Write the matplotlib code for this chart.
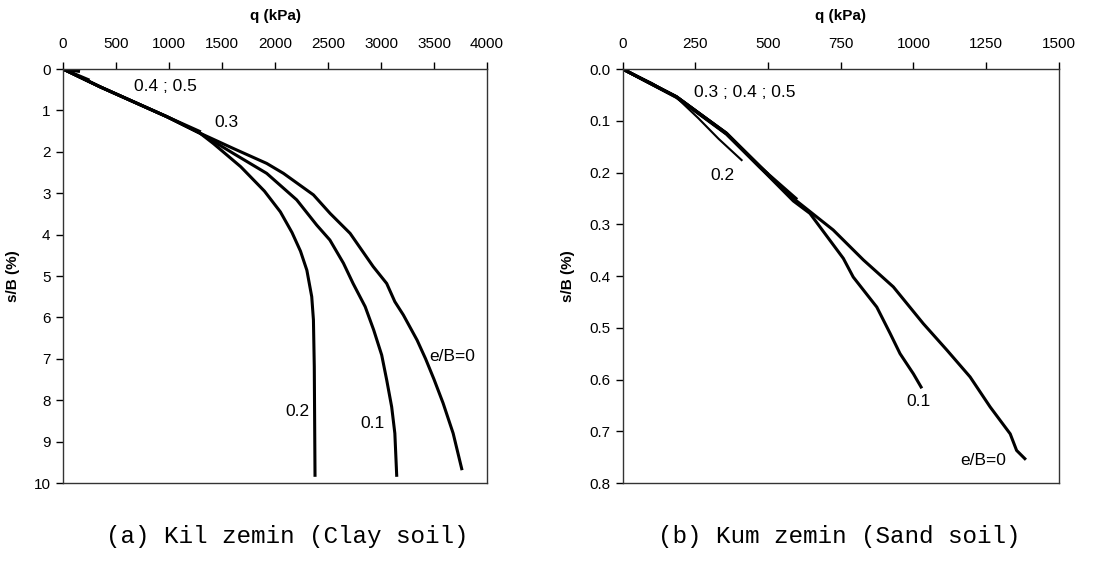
import numpy as np
import matplotlib
matplotlib.use("Agg")
import matplotlib.pyplot as plt
from matplotlib.ticker import FormatStrFormatter

plt.rcParams['font.family'] = ['Liberation Sans', 'DejaVu Sans']

# (a) clay: q (kPa) vs s/B (%) for each e/B
clay_q_0 = [0, 349, 978, 1292, 1607, 1921, 2079, 2362, 2520, 2708, 2925, 3053, 3130, 3210, 3340, 3420, 3500, 3585, 3680, 3764]
clay_s_0 = [0, 0.43, 1.15, 1.55, 1.92, 2.28, 2.52, 3.04, 3.49, 3.97, 4.77, 5.18, 5.62, 5.94, 6.55, 7.00, 7.50, 8.07, 8.80, 9.69]
clay_q_01 = [0, 349, 978, 1292, 1607, 1921, 2204, 2393, 2517, 2645, 2736, 2850, 2930, 3006, 3053, 3100, 3130, 3148]
clay_s_01 = [0, 0.43, 1.15, 1.55, 2.04, 2.52, 3.16, 3.77, 4.13, 4.69, 5.18, 5.74, 6.30, 6.91, 7.51, 8.16, 8.80, 9.85]
clay_q_02 = [0, 349, 978, 1292, 1418, 1676, 1900, 2050, 2160, 2240, 2300, 2346, 2362, 2370, 2377]
clay_s_02 = [0, 0.43, 1.15, 1.55, 1.80, 2.36, 2.95, 3.45, 3.95, 4.40, 4.86, 5.50, 6.06, 7.19, 9.85]
clay_q_03 = [0, 349, 978, 1300]
clay_s_03 = [0, 0.43, 1.15, 1.52]
clay_q_04 = [0, 250]
clay_s_04 = [0, 0.27]
clay_q_05 = [0, 160]
clay_s_05 = [0, 0.06]

# (b) sand
sand_q_0 = [0, 185, 357, 472, 587, 724, 828, 931, 1034, 1115, 1195, 1264, 1333, 1355, 1387]
sand_s_0 = [0, 0.0535, 0.124, 0.189, 0.250, 0.311, 0.369, 0.421, 0.492, 0.543, 0.595, 0.653, 0.705, 0.737, 0.755]
sand_q_01 = [0, 185, 357, 472, 587, 644, 759, 793, 874, 920, 954, 1000, 1029]
sand_s_01 = [0, 0.055, 0.126, 0.190, 0.255, 0.279, 0.366, 0.402, 0.460, 0.511, 0.550, 0.589, 0.617]
sand_q_02 = [0, 100, 185, 260, 330, 409]
sand_s_02 = [0, 0.027, 0.055, 0.095, 0.135, 0.176]
sand_q_03 = [0, 185, 357, 472, 600]
sand_s_03 = [0, 0.0535, 0.125, 0.189, 0.252]
sand_q_04 = [0, 185, 357, 472, 560]
sand_s_04 = [0, 0.054, 0.125, 0.190, 0.236]
sand_q_05 = [0, 185, 357, 500]
sand_s_05 = [0, 0.054, 0.124, 0.203]

fig = plt.figure(figsize=(11, 5.61), dpi=100)
ax1 = fig.add_axes([0.0573, 0.139, 0.3855, 0.738])
ax2 = fig.add_axes([0.5661, 0.139, 0.3964, 0.738])


def style_axis(ax, xmax, xstep, ymax, ystep):
    ax.set_xlim(0, xmax)
    ax.set_ylim(ymax, 0)
    ax.xaxis.tick_top()
    ax.xaxis.set_label_position('top')
    ax.set_xticks(np.arange(0, xmax + 1, xstep))
    ax.set_yticks(np.arange(0, ymax + ystep / 2, ystep))
    ax.tick_params(direction='out', length=5, width=1, labelsize=11, pad=8)
    ax.tick_params(axis='y', pad=4)
    for sp in ax.spines.values():
        sp.set_linewidth(1)
        sp.set_color('#333333')
    ax.set_xlabel('q (kPa)', fontsize=11, fontweight='bold', labelpad=12)
    ax.set_ylabel('s/B (%)', fontsize=11, fontweight='bold', labelpad=10)


lw = 2.2
for q, s in [(clay_q_0, clay_s_0), (clay_q_01, clay_s_01), (clay_q_02, clay_s_02),
             (clay_q_03, clay_s_03), (clay_q_04, clay_s_04), (clay_q_05, clay_s_05)]:
    ax1.plot(q, s, color='black', lw=lw, solid_capstyle='butt')

for q, s in [(sand_q_0, sand_s_0), (sand_q_01, sand_s_01), (sand_q_03, sand_s_03),
             (sand_q_04, sand_s_04), (sand_q_05, sand_s_05)]:
    ax2.plot(q, s, color='black', lw=lw, solid_capstyle='butt')
ax2.plot(sand_q_02, sand_s_02, color='black', lw=1.5)

style_axis(ax1, 4000, 500, 10, 1)
style_axis(ax2, 1500, 250, 0.8, 0.1)
ax2.yaxis.set_major_formatter(FormatStrFormatter('%.1f'))

fs = 12.5
ax1.text(962, 0.43, '0.4 ; 0.5', fontsize=fs, ha='center', va='center')
ax1.text(1540, 1.3, '0.3', fontsize=fs, ha='center', va='center')
ax1.text(3450, 6.95, 'e/B=0', fontsize=fs, ha='left', va='center')
ax1.text(2208, 8.28, '0.2', fontsize=fs, ha='center', va='center')
ax1.text(2915, 8.56, '0.1', fontsize=fs, ha='center', va='center')

ax2.text(421, 0.046, '0.3 ; 0.4 ; 0.5', fontsize=fs, ha='center', va='center')
ax2.text(343, 0.205, '0.2', fontsize=fs, ha='center', va='center')
ax2.text(1017, 0.643, '0.1', fontsize=fs, ha='center', va='center')
ax2.text(1241, 0.756, 'e/B=0', fontsize=fs, ha='center', va='center')

fig.text(287 / 1100, 1 - 537 / 561, '(a) Kil zemin (Clay soil)', family='Liberation Mono',
         fontsize=17.5, ha='center', va='center')
fig.text(839 / 1100, 1 - 537 / 561, '(b) Kum zemin (Sand soil)', family='Liberation Mono',
         fontsize=17.5, ha='center', va='center')

fig.savefig('out.png', dpi=100)
